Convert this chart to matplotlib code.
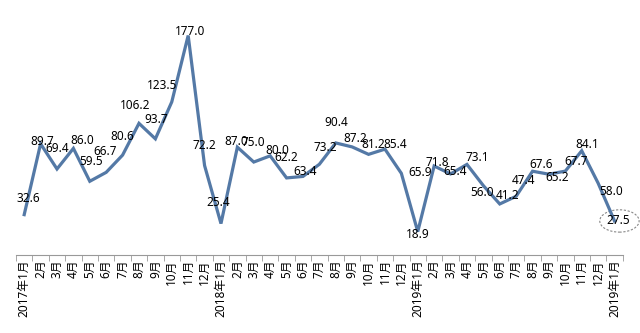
import numpy as np
import matplotlib.pyplot as plt
from matplotlib.patches import Ellipse

plt.rcParams['font.family'] = ['Noto Sans', 'Noto Sans CJK SC', 'DejaVu Sans']

# monthly values, 2017-01 .. 2019-12 plus the final month
months = ['2017年1月'] + ['%d月' % m for m in range(2, 13)] \
    + ['2018年1月'] + ['%d月' % m for m in range(2, 13)] \
    + ['2019年1月'] + ['%d月' % m for m in range(2, 13)] \
    + ['2019年1月']
values = [32.6, 89.7, 69.4, 86.0, 59.5, 66.7, 80.6, 106.2, 93.7, 123.5, 177.0, 72.2,
          25.4, 87.0, 75.0, 80.0, 62.2, 63.4, 73.2, 90.4, 87.2, 81.2, 85.4, 65.9,
          18.9, 71.8, 65.4, 73.1, 56.0, 41.2, 47.4, 67.6, 65.2, 67.7, 84.1, 58.0,
          27.5]

# label offsets in pixels (dx, dy up)
label_off = [(4, 16), (2, 2), (0, 20), (9, 8), (1, 20), (-1, 21), (0, 19), (-4, 18),
             (1, 19), (-10, 16), (2, 4), (0, 20), (-3, 21), (-1, 6), (0, 20), (7, 5),
             (0, 20), (2, 5), (6, 17), (0, 20), (3, 8), (5, 10), (10, 5), (19, 1),
             (0, -3), (3, 4), (5, 2), (10, 7), (-1, -7), (8, 8), (7, 16), (9, 7),
             (8, -3), (11, 10), (5, 6), (13, -8), (4, 0)]

fig = plt.figure(figsize=(6.4, 3.33), dpi=100)
ax = fig.add_axes([0.025, 0.234, 0.948, 0.745])

x = np.arange(len(values))
ax.plot(x, values, color='#5479A6', lw=2.3, solid_joinstyle='miter')

for i, v in enumerate(values):
    dx, dy = label_off[i]
    ax.annotate('%.1f' % v, (i, v), xytext=(dx * 0.72, dy * 0.72),
                textcoords='offset points', ha='center', va='center',
                fontsize=8.5, color='black')

# dashed ellipse around the last value
e = Ellipse((x[-1] + 0.3, values[-1]), width=2.4, height=18, fill=False,
            ls=(0, (2, 1.5)), lw=0.8, ec='#888888', clip_on=False)
ax.add_patch(e)

ax.set_xlim(-0.5, len(values) - 0.5)
ax.set_ylim(0, 200)
ax.set_xticks(x)
ax.set_xticklabels(months, rotation=90, fontsize=8.5)
ax.set_xticks(np.arange(-0.5, len(values), 1), minor=True)
ax.tick_params(axis='x', which='major', length=0, pad=3)
ax.tick_params(axis='x', which='minor', length=4, color='#999999')
ax.set_yticks([])
for s in ['top', 'right', 'left']:
    ax.spines[s].set_visible(False)
ax.spines['bottom'].set_color('#999999')

fig.savefig('out.png', dpi=100)
